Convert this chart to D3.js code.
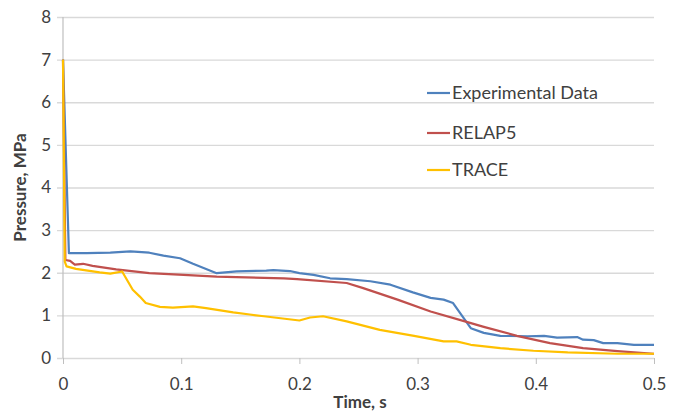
<!DOCTYPE html>
<html>
<head>
<meta charset="utf-8">
<script src="https://cdn.jsdelivr.net/npm/d3@7"></script>
<style>
  body { margin: 0; background: #fff; }
  svg text { font-family: Lato, "Open Sans", sans-serif; fill: #404040; }
</style>
</head>
<body>
<div id="chart"></div>
<script>
const seriesNames = ['Experimental Data', 'RELAP5', 'TRACE'];
const seriesColors = ['#4f81bd', '#c0504d', '#ffc000'];

const expData = [
  [0, 7.0], [0.005, 2.46], [0.02, 2.46], [0.04, 2.47], [0.057, 2.50], [0.073, 2.47],
  [0.085, 2.40], [0.099, 2.34], [0.11, 2.21], [0.13, 1.99], [0.147, 2.03],
  [0.172, 2.05], [0.178, 2.06], [0.192, 2.04], [0.2, 1.99], [0.212, 1.95],
  [0.226, 1.87], [0.24, 1.85], [0.26, 1.80], [0.277, 1.72], [0.296, 1.54],
  [0.311, 1.41], [0.322, 1.37], [0.33, 1.29], [0.336, 1.05], [0.345, 0.70],
  [0.356, 0.59], [0.37, 0.52], [0.393, 0.51], [0.407, 0.52], [0.418, 0.48],
  [0.435, 0.49], [0.44, 0.43], [0.449, 0.42], [0.457, 0.35], [0.469, 0.35],
  [0.483, 0.31], [0.5, 0.31]
];

const relapData = [
  [0, 7.0], [0.002, 2.30], [0.006, 2.28], [0.01, 2.19], [0.017, 2.21], [0.025, 2.16],
  [0.045, 2.08], [0.073, 1.99], [0.102, 1.95], [0.13, 1.91], [0.187, 1.87],
  [0.198, 1.85], [0.24, 1.76], [0.254, 1.64], [0.283, 1.37], [0.311, 1.09],
  [0.34, 0.86], [0.356, 0.73], [0.384, 0.52], [0.412, 0.35], [0.44, 0.23],
  [0.469, 0.16], [0.5, 0.10]
];

const traceData = [
  [0, 7.0], [0.0015, 2.26], [0.003, 2.15], [0.011, 2.09], [0.031, 2.01], [0.04, 1.98],
  [0.05, 2.03], [0.059, 1.60], [0.065, 1.44], [0.07, 1.29], [0.082, 1.20],
  [0.093, 1.18], [0.11, 1.21], [0.121, 1.17], [0.144, 1.07], [0.158, 1.02],
  [0.17, 0.98], [0.2, 0.88], [0.209, 0.95], [0.22, 0.98], [0.24, 0.86],
  [0.268, 0.66], [0.297, 0.52], [0.322, 0.39], [0.333, 0.39], [0.345, 0.31],
  [0.37, 0.23], [0.398, 0.17], [0.427, 0.13], [0.469, 0.10], [0.5, 0.10]
];

const xTicks = [0, 0.1, 0.2, 0.3, 0.4, 0.5];
const yTicks = [0, 1, 2, 3, 4, 5, 6, 7, 8];

const w = 685, h = 412;
const margin = { left: 63, right: 31, top: 17, bottom: 54 };

const x = d3.scaleLinear().domain([0, 0.5]).range([margin.left, w - margin.right]);
const y = d3.scaleLinear().domain([0, 8]).range([h - margin.bottom, margin.top]);

const svg = d3.select('#chart').append('svg').attr('width', w).attr('height', h);

// horizontal gridlines + y ticks
svg.append('g')
  .attr('transform', 'translate(' + margin.left + ',0)')
  .call(d3.axisLeft(y).tickValues(yTicks).tickFormat(d3.format('d'))
    .tickSize(-(w - margin.right - margin.left) - 6).tickPadding(12))
  .call(g => g.select('.domain').remove())
  .call(g => g.selectAll('.tick line').attr('x1', -6).attr('x2', w - margin.right - margin.left)
    .attr('stroke', '#d9d9d9').attr('stroke-width', 1.3))
  .call(g => g.selectAll('.tick text').attr('font-size', 17).attr('fill', '#404040')
    .style('font-family', 'Lato, sans-serif'));

// x axis
svg.append('g')
  .attr('transform', 'translate(0,' + y(0) + ')')
  .call(d3.axisBottom(x).tickValues(xTicks).tickFormat(d => d === 0 ? '0' : d3.format('.1f')(d))
    .tickSize(6).tickPadding(14))
  .call(g => g.select('.domain').remove())
  .call(g => g.selectAll('.tick line').attr('stroke', '#bfbfbf'))
  .call(g => g.selectAll('.tick text').attr('font-size', 17).attr('fill', '#404040')
    .style('font-family', 'Lato, sans-serif'));

// y axis line
svg.append('line')
  .attr('x1', x(0)).attr('x2', x(0)).attr('y1', y(8)).attr('y2', y(0))
  .attr('stroke', '#bfbfbf').attr('stroke-width', 1.2);

const line = d3.line().x(d => x(d[0])).y(d => y(d[1]));

[expData, relapData, traceData].forEach((data, i) => {
  svg.append('path')
    .datum(data)
    .attr('fill', 'none')
    .attr('stroke', seriesColors[i])
    .attr('stroke-width', 2.2)
    .attr('stroke-linejoin', 'round')
    .attr('d', line);
});

// legend
const legend = svg.append('g').attr('transform', 'translate(427,93)');
seriesNames.forEach((name, i) => {
  const gy = [0, 40, 77][i];
  legend.append('line').attr('x1', 0).attr('x2', 23).attr('y1', gy).attr('y2', gy)
    .attr('stroke', seriesColors[i]).attr('stroke-width', 2.2);
  legend.append('text').attr('x', 25).attr('y', gy).attr('dy', '0.35em')
    .attr('font-size', 18).text(name);
});

// axis titles
svg.append('text')
  .attr('transform', 'translate(26,' + ((y(0) + y(8)) / 2) + ') rotate(-90)')
  .attr('text-anchor', 'middle')
  .attr('font-size', 17).attr('font-weight', 'bold').attr('fill', '#000')
  .text('Pressure, MPa');

svg.append('text')
  .attr('x', 360).attr('y', 408)
  .attr('text-anchor', 'middle')
  .attr('font-size', 17).attr('font-weight', 'bold').attr('fill', '#000')
  .text('Time, s');
</script>
</body>
</html>
